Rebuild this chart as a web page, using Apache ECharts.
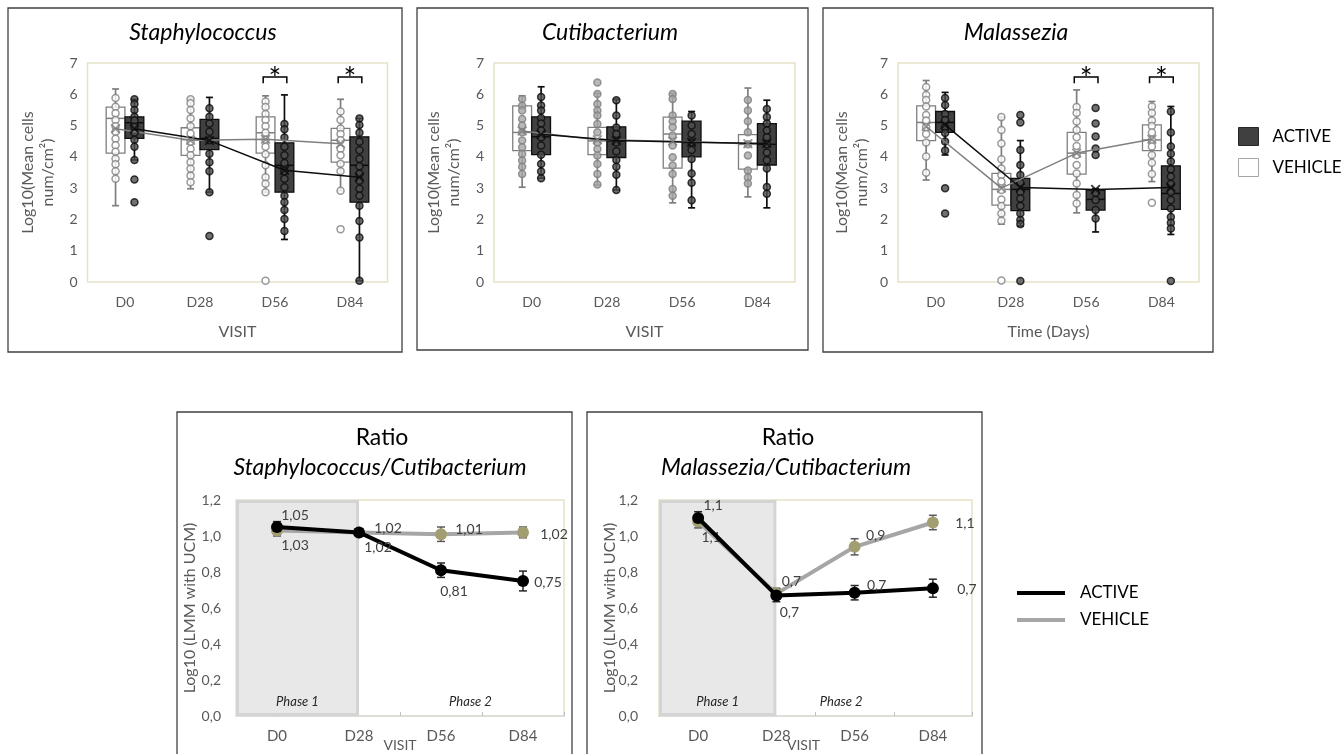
<!DOCTYPE html>
<html>
<head>
<meta charset="utf-8">
<title>ACTIVE vs VEHICLE – skin microbiome</title>
<script src="https://cdn.jsdelivr.net/npm/echarts@6/dist/echarts.min.js"></script>
<style>
  html, body { margin: 0; padding: 0; background: #fff; }
  #main { width: 1341px; height: 754px; }
</style>
</head>
<body>
<div id="main"></div>
<script>
// ---------------- data ----------------
const visits = ['D0', 'D28', 'D56', 'D84'];

// box stats per visit: [min, q1, median, q3, max]
const staphVehicleBox = [[2.44, 4.12, 5.23, 5.59, 6.17], [2.98, 4.05, 4.55, 4.93, 5.88], [2.87, 4.12, 4.77, 5.28, 5.95], [2.92, 3.83, 4.53, 4.91, 5.84]];
const staphActiveBox = [[3.90, 4.59, 5.09, 5.28, 5.84], [2.87, 4.23, 4.59, 5.20, 5.90], [1.36, 2.87, 3.73, 4.45, 5.98], [0.04, 2.55, 3.73, 4.64, 5.23]];
const staphVehicleMean = [4.90, 4.53, 4.56, 4.42];
const staphActiveMean = [4.90, 4.52, 3.57, 3.35];
const staphVehiclePts = [
  [5.88, 5.60, 5.39, 5.18, 4.98, 4.80, 4.58, 4.37, 4.16, 3.94, 3.76, 3.54, 3.30],
  [5.84, 5.71, 5.50, 5.23, 4.98, 4.75, 4.48, 4.26, 4.05, 3.83, 3.62, 3.40, 3.19],
  [5.77, 5.59, 5.37, 5.18, 4.98, 4.77, 4.55, 4.32, 4.08, 3.73, 3.35, 3.14, 2.87, 0.04],
  [5.45, 5.18, 4.91, 4.73, 4.53, 4.26, 4.05, 3.78, 3.54, 2.92, 1.69]
];
const staphActivePts = [
  [5.84, 5.69, 5.50, 5.28, 5.16, 4.96, 4.77, 4.55, 4.32, 3.90, 3.28, 2.55],
  [5.55, 5.28, 5.07, 4.80, 4.53, 4.10, 3.83, 3.54, 2.87, 1.47],
  [5.05, 4.88, 4.62, 4.32, 4.05, 3.80, 3.54, 3.30, 3.03, 2.76, 2.55, 2.30, 2.01, 1.63],
  [5.23, 5.02, 4.77, 4.48, 4.21, 3.94, 3.70, 3.46, 3.24, 2.98, 2.76, 2.44, 1.95, 1.42, 0.04]
];
const staphSig = ['D56', 'D84'];

const cutiVehicleBox = [[3.03, 4.20, 4.78, 5.63, 5.95], [3.10, 4.07, 4.51, 4.94, 6.03], [2.53, 3.64, 4.73, 5.27, 6.03], [2.72, 3.61, 4.40, 4.71, 6.20]];
const cutiActiveBox = [[3.32, 4.07, 4.64, 5.28, 6.24], [2.94, 3.98, 4.51, 4.96, 5.84], [2.37, 4.00, 4.46, 5.14, 5.45], [2.37, 3.74, 4.40, 5.06, 5.81]];
const cutiVehicleMean = [4.83, 4.55, 4.50, 4.42];
const cutiActiveMean = [4.72, 4.52, 4.47, 4.43];
const cutiVehiclePts = [
  [5.85, 5.63, 5.48, 5.21, 5.00, 4.79, 4.52, 4.31, 4.09, 3.88, 3.68, 3.45],
  [6.38, 6.01, 5.69, 5.48, 5.32, 5.05, 4.79, 4.46, 4.25, 4.04, 3.77, 3.45, 3.12],
  [6.01, 5.85, 5.32, 5.14, 4.95, 4.68, 4.36, 3.99, 3.72, 3.45, 2.97, 2.76],
  [5.82, 5.48, 5.14, 4.79, 4.40, 4.04, 3.56, 3.34, 3.15]
];
const cutiActivePts = [
  [5.91, 5.64, 5.48, 5.24, 5.07, 4.84, 4.63, 4.36, 4.07, 3.77, 3.53, 3.32],
  [5.81, 5.32, 4.94, 4.73, 4.46, 4.18, 3.90, 3.68, 3.43, 2.94],
  [5.32, 5.00, 4.73, 4.46, 4.22, 3.93, 3.47, 3.17, 2.61],
  [5.53, 5.27, 5.07, 4.84, 4.63, 4.40, 4.14, 3.89, 3.63, 3.04, 2.82]
];
const cutiSig = [];

const malaVehicleBox = [[3.26, 4.52, 5.10, 5.63, 6.44], [1.85, 2.46, 2.96, 3.47, 5.27], [2.21, 3.45, 4.12, 4.78, 6.14], [3.21, 4.20, 4.54, 5.02, 5.77]];
const malaActiveBox = [[4.06, 4.78, 5.10, 5.45, 6.06], [1.79, 2.28, 2.96, 3.31, 4.52], [1.60, 2.30, 2.64, 2.94, 2.98], [1.52, 2.32, 2.83, 3.71, 5.61]];
const malaVehicleMean = [4.97, 3.00, 4.12, 4.56];
const malaActiveMean = [5.02, 3.02, 2.96, 3.02];
const malaVehiclePts = [
  [6.23, 5.98, 5.82, 5.61, 5.34, 5.16, 4.95, 4.73, 4.46, 4.01, 3.49],
  [5.27, 4.86, 4.43, 3.92, 3.63, 3.42, 3.21, 2.94, 2.64, 2.43, 2.19, 1.96, 0.05],
  [5.59, 5.40, 5.13, 4.86, 4.63, 4.35, 4.06, 3.74, 3.47, 3.15, 2.78, 2.51],
  [5.61, 5.40, 5.16, 4.99, 4.78, 4.54, 4.33, 4.06, 3.81, 3.45, 2.53]
];
const malaActivePts = [
  [5.88, 5.66, 5.37, 5.18, 4.95, 4.76, 4.49, 4.20, 3.00, 2.19],
  [5.34, 5.10, 4.22, 3.74, 3.42, 3.17, 2.88, 2.67, 2.43, 2.19, 1.98, 1.85, 0.03],
  [5.56, 5.07, 4.65, 4.27, 4.06, 2.85, 2.62, 2.30, 2.03],
  [5.45, 4.78, 4.33, 4.10, 3.85, 3.60, 3.37, 3.13, 2.88, 2.62, 2.35, 2.08, 1.89, 1.71, 0.03]
];
const malaSig = ['D56', 'D84'];
const sigLevel = 6.55;

// ratios (log10, LMM with UCM) and error bar half-widths
const ratioStaphActive = [1.05, 1.02, 0.81, 0.75];
const ratioStaphActiveErr = [0.03, 0.02, 0.04, 0.055];
const ratioStaphVehicle = [1.03, 1.02, 1.01, 1.02];
const ratioStaphVehicleErr = [0.03, 0.02, 0.04, 0.03];
const ratioMalaActive = [1.10, 0.67, 0.685, 0.71];
const ratioMalaActiveErr = [0.035, 0.035, 0.04, 0.05];
const ratioMalaVehicle = [1.08, 0.68, 0.94, 1.075];
const ratioMalaVehicleErr = [0.035, 0.03, 0.045, 0.04];
const phases = ['Phase 1', 'Phase 2'];
const phaseEnd = 'D28';

// ---------------- chart ----------------
const chart = echarts.init(document.getElementById('main'));
const FONT = 'Lato, "Open Sans", sans-serif';
const GRAY = '#595959';
const OFF = 0.126;   // box centre shift, in category units
const BOXW = 0.25;   // box width, in category units

const topPanels = [
  { title: 'Staphylococcus', tx: 203, xName: 'VISIT', nameGap: 30, sig: staphSig,
    grid: { left: 87.5, top: 63, width: 300, height: 219 },
    v: { box: staphVehicleBox, mean: staphVehicleMean, pts: staphVehiclePts, fill: '#ffffff' },
    a: { box: staphActiveBox, mean: staphActiveMean, pts: staphActivePts } },
  { title: 'Cutibacterium', tx: 610, xName: 'VISIT', nameGap: 30, sig: cutiSig,
    grid: { left: 494, top: 63, width: 301, height: 219 },
    v: { box: cutiVehicleBox, mean: cutiVehicleMean, pts: cutiVehiclePts, fill: '#a6a6a6' },
    a: { box: cutiActiveBox, mean: cutiActiveMean, pts: cutiActivePts } },
  { title: 'Malassezia', tx: 1016, xName: 'Time (Days)', nameGap: 26, sig: malaSig,
    grid: { left: 898, top: 63, width: 301, height: 219 },
    v: { box: malaVehicleBox, mean: malaVehicleMean, pts: malaVehiclePts, fill: '#ffffff' },
    a: { box: malaActiveBox, mean: malaActiveMean, pts: malaActivePts } }
];

const ratioPanels = [
  { sub: 'Staphylococcus/Cutibacterium', tx: 380, dec: 2, nameGap: 38, labelMargin: 15, visitPad: 0, phase2Shift: 9,
    grid: { left: 236, top: 500, width: 328, height: 216 },
    active: { vals: ratioStaphActive, err: ratioStaphActiveErr, lab: [[18, -12], [19, 15], [13, 21], [25, 1]] },
    vehicle: { vals: ratioStaphVehicle, err: ratioStaphVehicleErr, lab: [[18, 15], [29, -4], [28, -5], [31, 2]] } },
  { sub: 'Malassezia/Cutibacterium', tx: 786, dec: 1, nameGap: 41, labelMargin: 21, visitPad: 24, phase2Shift: -33,
    grid: { left: 659, top: 500, width: 313, height: 216 },
    active: { vals: ratioMalaActive, err: ratioMalaActiveErr, lab: [[15, -13], [13, 17], [22, -7], [34, 1]] },
    vehicle: { vals: ratioMalaVehicle, err: ratioMalaVehicleErr, lab: [[13, 16], [15, -12], [21, -11], [32, 1]] } }
];

const txt = (t, x, y, size, italic, color, align) => ({
  type: 'text', x: x, y: y, silent: true,
  style: { text: t, fill: color || '#000', font: (italic ? 'italic ' : '') + size + 'px ' + FONT,
    textAlign: align || 'center', align: align || 'center', textVerticalAlign: 'middle', verticalAlign: 'middle' }
});

function boxRenderer(stroke, fill) {
  return function (params, api) {
    const x = api.value(0);
    const p = k => api.coord([x, api.value(k)]);
    const w = api.size([BOXW, 0])[0];
    const lo = p(1), q1 = p(2), med = p(3), q3 = p(4), hi = p(5);
    const cx = lo[0], cap = 3.5;
    const st = { stroke: stroke, lineWidth: 1.7, fill: null };
    return { type: 'group', children: [
      { type: 'line', shape: { x1: cx, y1: q3[1], x2: cx, y2: hi[1] }, style: st },
      { type: 'line', shape: { x1: cx, y1: q1[1], x2: cx, y2: lo[1] }, style: st },
      { type: 'line', shape: { x1: cx - cap, y1: hi[1], x2: cx + cap, y2: hi[1] }, style: st },
      { type: 'line', shape: { x1: cx - cap, y1: lo[1], x2: cx + cap, y2: lo[1] }, style: st },
      { type: 'rect', shape: { x: cx - w / 2, y: q3[1], width: w, height: q1[1] - q3[1] },
        style: { fill: fill, stroke: stroke, lineWidth: 1.3 } },
      { type: 'line', shape: { x1: cx - w / 2, y1: med[1], x2: cx + w / 2, y2: med[1] },
        style: { stroke: stroke, lineWidth: 1.5 } }
    ] };
  };
}

function sigRenderer(params, api) {
  const a = api.coord([api.value(0) - OFF * 1.25, api.value(1)]);
  const b = api.coord([api.value(0) + OFF * 1.25, api.value(1)]);
  const leg = api.size([0, 0.2])[1];
  return { type: 'group', children: [
    { type: 'polyline', shape: { points: [[a[0], a[1] + leg], [a[0], a[1]], [b[0], b[1]], [b[0], b[1] + leg]] },
      style: { stroke: '#000', lineWidth: 1.5, fill: null } },
    { type: 'text', style: { text: '*', x: (a[0] + b[0]) / 2, y: a[1] + 2, fill: '#000', font: '30px ' + FONT,
      textAlign: 'center', align: 'center', textVerticalAlign: 'middle', verticalAlign: 'middle' } }
  ] };
}

function errRenderer(color) {
  return function (params, api) {
    const lo = api.coord([api.value(0), api.value(1)]);
    const hi = api.coord([api.value(0), api.value(2)]);
    const c = 4, st = { stroke: color, lineWidth: 1.5, fill: null };
    return { type: 'group', children: [
      { type: 'line', shape: { x1: lo[0], y1: lo[1], x2: hi[0], y2: hi[1] }, style: st },
      { type: 'line', shape: { x1: lo[0] - c, y1: lo[1], x2: lo[0] + c, y2: lo[1] }, style: st },
      { type: 'line', shape: { x1: hi[0] - c, y1: hi[1], x2: hi[0] + c, y2: hi[1] }, style: st }
    ] };
  };
}

function phaseRenderer(shift) {
  return function (params, api) {
    const cs = params.coordSys;
    const xb = api.coord([api.value(0), 0])[0];
    const y = cs.y + cs.height - 14;
    return { type: 'group', children: [
      { type: 'rect', shape: { x: cs.x + 1.5, y: cs.y + 1.5, width: xb - cs.x - 3, height: cs.height - 3 },
        style: { fill: '#e8e8e8', stroke: '#d4d4d4', lineWidth: 3 } },
      txt(phases[0], (cs.x + xb) / 2, y, 13, true, '#262626'),
      txt(phases[1], (xb + cs.x + cs.width) / 2 + shift, y, 13, true, '#262626')
    ] };
  };
}

const X_MARK = 'path://M0,1.4L1.4,0L5,3.6L8.6,0L10,1.4L6.4,5L10,8.6L8.6,10L5,6.4L1.4,10L0,8.6L3.6,5Z';

const grid = [], xAxis = [], yAxis = [], series = [], graphic = [];

topPanels.forEach((p, g) => {
  grid.push(Object.assign({ show: true, borderColor: '#e6e2c8', borderWidth: 1.5, outerBoundsMode: 'none' }, p.grid));
  xAxis.push({ type: 'category', gridIndex: g, data: visits,
    axisLine: { show: false }, axisTick: { show: false },
    axisLabel: { color: GRAY, fontSize: 14, fontFamily: FONT, margin: 13 },
    name: p.xName, nameLocation: 'middle', nameGap: 42, nameMoveOverlap: false,
    nameTextStyle: { color: GRAY, fontSize: 16, fontFamily: FONT } });
  xAxis.push({ type: 'value', gridIndex: g, min: -0.5, max: 3.5, show: false });
  yAxis.push({ type: 'value', gridIndex: g, min: 0, max: 7, interval: 1,
    splitLine: { show: false }, axisLine: { show: false }, axisTick: { show: false },
    axisLabel: { color: GRAY, fontSize: 14, fontFamily: FONT, margin: 10 },
    name: 'Log10(Mean cells\nnum/cm²)', nameLocation: 'middle', nameGap: p.nameGap, nameMoveOverlap: false,
    nameTextStyle: { color: GRAY, fontSize: 16, fontFamily: FONT, lineHeight: 20 } });

  const xi = 2 * g + 1;
  const groups = [
    { name: 'VEHICLE', side: -1, d: p.v, stroke: '#7f7f7f', fill: '#ffffff',
      pt: { color: p.v.fill, borderColor: '#7f7f7f', borderWidth: 1.5 }, mark: '#7f7f7f' },
    { name: 'ACTIVE', side: 1, d: p.a, stroke: '#0d0d0d', fill: '#404040',
      pt: { color: '#4d4d4d', borderColor: '#0d0d0d', borderWidth: 1.5 }, mark: '#0d0d0d' }
  ];
  groups.forEach(gr => {
    const pos = i => i + gr.side * OFF;
    series.push({ type: 'custom', name: gr.name, xAxisIndex: xi, yAxisIndex: g, z: 2, silent: true,
      data: gr.d.box.map((b, i) => [pos(i)].concat(b)), renderItem: boxRenderer(gr.stroke, gr.fill) });
    const pts = [];
    gr.d.pts.forEach((arr, i) => arr.forEach(v => pts.push([pos(i), v])));
    series.push({ type: 'scatter', name: gr.name, xAxisIndex: xi, yAxisIndex: g, z: 3, silent: true,
      symbol: 'circle', symbolSize: 7, itemStyle: gr.pt, data: pts });
  });
  groups.forEach(gr => {
    const pos = i => i + gr.side * OFF;
    series.push({ type: 'line', name: gr.name, xAxisIndex: xi, yAxisIndex: g, z: 4, silent: true,
      symbol: 'none', lineStyle: { color: gr.stroke, width: 1.5 },
      data: gr.d.mean.map((m, i) => [pos(i), m]) });
    series.push({ type: 'scatter', name: gr.name, xAxisIndex: xi, yAxisIndex: g, z: 5, silent: true,
      symbol: X_MARK, symbolSize: 10, itemStyle: { color: gr.mark },
      data: gr.d.mean.map((m, i) => [pos(i), m]) });
  });
  if (p.sig.length) {
    series.push({ type: 'custom', xAxisIndex: xi, yAxisIndex: g, z: 6, silent: true,
      data: p.sig.map(v => [visits.indexOf(v), sigLevel]), renderItem: sigRenderer });
  }
  graphic.push(txt(p.title, p.tx, 33, 23, true));
});

ratioPanels.forEach((r, k) => {
  const g = 3 + k, xi = 2 * g + 1;
  grid.push(Object.assign({ show: true, borderColor: '#e6e2c8', borderWidth: 1.5, outerBoundsMode: 'none' }, r.grid));
  xAxis.push({ type: 'category', gridIndex: g, data: visits,
    axisLine: { show: true, lineStyle: { color: '#d9d9d9', width: 1.5 } },
    axisTick: { show: true, inside: true, length: 4, lineStyle: { color: '#bfbfbf' } },
    axisLabel: { color: GRAY, fontSize: 15, fontFamily: FONT, margin: 13 },
    name: 'VISIT', nameLocation: 'middle', nameGap: 22, nameMoveOverlap: false,
    nameTextStyle: { color: GRAY, fontSize: 14, fontFamily: FONT, padding: [0, r.visitPad, 0, 0] } });
  xAxis.push({ type: 'value', gridIndex: g, min: -0.5, max: 3.5, show: false });
  yAxis.push({ type: 'value', gridIndex: g, min: 0, max: 1.2, interval: 0.2,
    splitLine: { show: false }, axisLine: { show: false },
    axisTick: { show: true, length: 5, lineStyle: { color: '#d9d9d9' } },
    axisLabel: { color: GRAY, fontSize: 14, fontFamily: FONT, margin: r.labelMargin,
      formatter: v => v.toFixed(1).replace('.', ',') },
    name: 'Log10 (LMM with UCM)', nameLocation: 'middle', nameGap: r.nameGap, nameMoveOverlap: false,
    nameTextStyle: { color: GRAY, fontSize: 16, fontFamily: FONT } });

  series.push({ type: 'custom', xAxisIndex: xi, yAxisIndex: g, z: 1, silent: true,
    data: [[visits.indexOf(phaseEnd)]], renderItem: phaseRenderer(r.phase2Shift) });

  const groups = [
    { name: 'VEHICLE', d: r.vehicle, line: '#a6a6a6', marker: '#a39d72', err: '#595959', z: 4 },
    { name: 'ACTIVE', d: r.active, line: '#000000', marker: '#000000', err: '#262626', z: 5 }
  ];
  groups.forEach(gr => {
    series.push({ type: 'custom', name: gr.name, xAxisIndex: xi, yAxisIndex: g, z: 3, silent: true,
      data: gr.d.vals.map((v, i) => [i, v - gr.d.err[i], v + gr.d.err[i]]), renderItem: errRenderer(gr.err) });
    series.push({ type: 'line', name: gr.name, xAxisIndex: xi, yAxisIndex: g, z: gr.z, silent: true,
      symbol: 'circle', symbolSize: 12, lineStyle: { color: gr.line, width: 4 },
      itemStyle: { color: gr.marker },
      label: { show: true, position: 'inside', color: '#404040', fontSize: 14, fontFamily: FONT,
        formatter: q => q.value[1].toFixed(r.dec).replace('.', ',') },
      data: gr.d.vals.map((v, i) => ({ value: [i, v], label: { offset: gr.d.lab[i] } })) });
  });

  graphic.push(txt('Ratio', r.tx + 2, 438, 23, false));
  graphic.push(txt(r.sub, r.tx, 468, 23, true));
});

// panel frames
[[8, 8, 394, 344], [417, 8, 391, 342], [823, 8, 390, 344], [177, 412, 395, 350], [587, 412, 395, 350]]
  .forEach(b => graphic.push({ type: 'rect', silent: true, z: -1,
    shape: { x: b[0], y: b[1], width: b[2], height: b[3] },
    style: { fill: null, stroke: '#404040', lineWidth: 1.3 } }));

chart.setOption({
  animation: false,
  backgroundColor: '#ffffff',
  textStyle: { fontFamily: FONT },
  grid: grid,
  xAxis: xAxis,
  yAxis: yAxis,
  legend: [
    { orient: 'vertical', left: 1238, top: 127, padding: 0, itemWidth: 20, itemHeight: 18, itemGap: 12, selectedMode: false,
      textStyle: { fontSize: 17, color: '#000', fontFamily: FONT, lineHeight: 18, padding: [0, 0, 0, 9] },
      data: [
        { name: 'ACTIVE', icon: 'rect', itemStyle: { color: '#404040', borderColor: '#262626', borderWidth: 1 } },
        { name: 'VEHICLE', icon: 'rect', itemStyle: { color: '#ffffff', borderColor: '#a6a6a6', borderWidth: 1 } }
      ] },
    { orient: 'vertical', left: 1017, top: 584, padding: 0, itemWidth: 48, itemHeight: 4, itemGap: 9, selectedMode: false,
      textStyle: { fontSize: 17, color: '#000', fontFamily: FONT, lineHeight: 18, padding: [0, 0, 0, 10] },
      data: [
        { name: 'ACTIVE', icon: 'rect', itemStyle: { color: '#000000', borderWidth: 0 } },
        { name: 'VEHICLE', icon: 'rect', itemStyle: { color: '#a6a6a6', borderWidth: 0 } }
      ] }
  ],
  graphic: graphic,
  series: series
});
</script>
</body>
</html>
